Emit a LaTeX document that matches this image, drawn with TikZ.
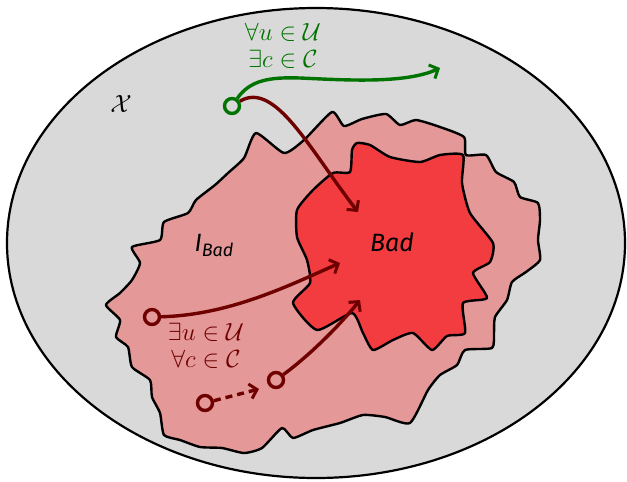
\documentclass[tikz,border=0pt]{standalone}
\usepackage{fontspec}
\setmainfont{Fira Sans}
\usetikzlibrary{arrows.meta}
\definecolor{bgray}{RGB}{217,217,217}
\definecolor{ibad}{RGB}{228,152,152}
\definecolor{badc}{RGB}{243,60,63}
\definecolor{dred}{RGB}{110,0,0}
\definecolor{dgreen}{RGB}{0,115,0}
\tikzset{
  blob/.style={draw=black,line width=2.4pt,line join=round},
  conn/.style={line width=3.4pt,-{Straight Barb[length=7pt,width=15pt,line width=3pt]}},
  dot/.style={circle,draw,line width=3.4pt,minimum size=15pt,inner sep=0pt},
  lab/.style={font=\fontsize{25}{30}\selectfont,align=center,inner sep=0pt},
}
\begin{document}
\begin{tikzpicture}[x=1pt,y=-1pt]
\useasboundingbox (0,0) rectangle (627,482);
\draw[fill=bgray,line width=2.2pt] (316,243) ellipse [x radius=309, y radius=235];
% outer blob
\draw[blob,fill=ibad] plot[smooth cycle,tension=0.35] coordinates {
 (332,112) (344,126) (362,119) (386,114) (400,125) (416,120) (440,127) (464,137)
 (466,155) (486,155) (496,172) (514,182) (520,197) (538,203) (540,220) (538,240)
 (540,260) (526,272) (512,282) (507,300) (495,317) (494,333) (492,348) (465,350) (457,365)
 (440,375) (428,390) (410,423) (385,417) (363,415) (340,423) (313,430) (293,438)
 (282,428) (262,448) (244,453) (222,448) (200,447) (180,440) (164,435) (160,413)
 (152,397) (150,380) (132,367) (128,347) (116,337) (120,320) (106,305) (120,293)
 (132,280) (140,263) (132,247) (160,240) (164,222) (188,213) (196,200) (215,185)
 (228,173) (244,158) (256,133) (284,153) (304,140)};
% inner blob
\draw[blob,fill=badc] plot[smooth cycle,tension=0.35] coordinates {
 (357,143) (370,145) (390,157) (420,162) (440,155) (463,155) (462,183) (470,213)
 (493,243) (490,262) (473,273) (487,298) (463,303) (465,333) (447,336) (432,350)
 (413,333) (393,340) (373,350) (363,333) (352,313) (317,330) (293,303) (310,283)
 (307,260) (297,237) (297,210) (313,190) (333,173) (350,172) (352,150)};
% labels
\node[lab] (X) at (121,104) {$\mathcal{X}$};
\node[lab] (ib) at (214,245) {\textit{I}\raisebox{-5pt}{\fontsize{18}{20}\selectfont\textit{Bad}}};
\node[lab] (bd) at (392,242) {\textit{Bad}};
\node[lab,text=dgreen] (gl) at (283,46) {$\forall u\in\mathcal{U}$\\[-3pt]$\exists c\in\mathcal{C}$};
\node[lab,text=dred] (rl) at (206,346) {$\exists u\in\mathcal{U}$\\[-3pt]$\forall c\in\mathcal{C}$};
% start points
\node[dot,draw=dgreen] (g) at (232,106) {};
\node[dot,draw=dred] (r1) at (152,317) {};
\node[dot,draw=dred] (r2) at (276,380) {};
\node[dot,draw=dred] (r3) at (205,403) {};
\coordinate (tg) at (440,68);
\coordinate (t1) at (358,212);
\coordinate (t2) at (340,263);
\coordinate (t3) at (360,300);
\coordinate (t4) at (259,389);
% connectors
\draw[conn,dred] (g) .. controls (275,80) and (310,150) .. (t1);
\draw[conn,dgreen] (g) .. controls (250,80) and (270,77) .. (300,78) .. controls (345,80) and (405,84) .. (tg);
\draw[conn,dred] (r1) .. controls (230,315) and (290,285) .. (t2);
\draw[conn,dred] (r2) .. controls (310,355) and (340,325) .. (t3);
\draw[conn,dred,dashed,dash pattern=on 7pt off 5pt] (r3) -- (t4);
\end{tikzpicture}
\end{document}
